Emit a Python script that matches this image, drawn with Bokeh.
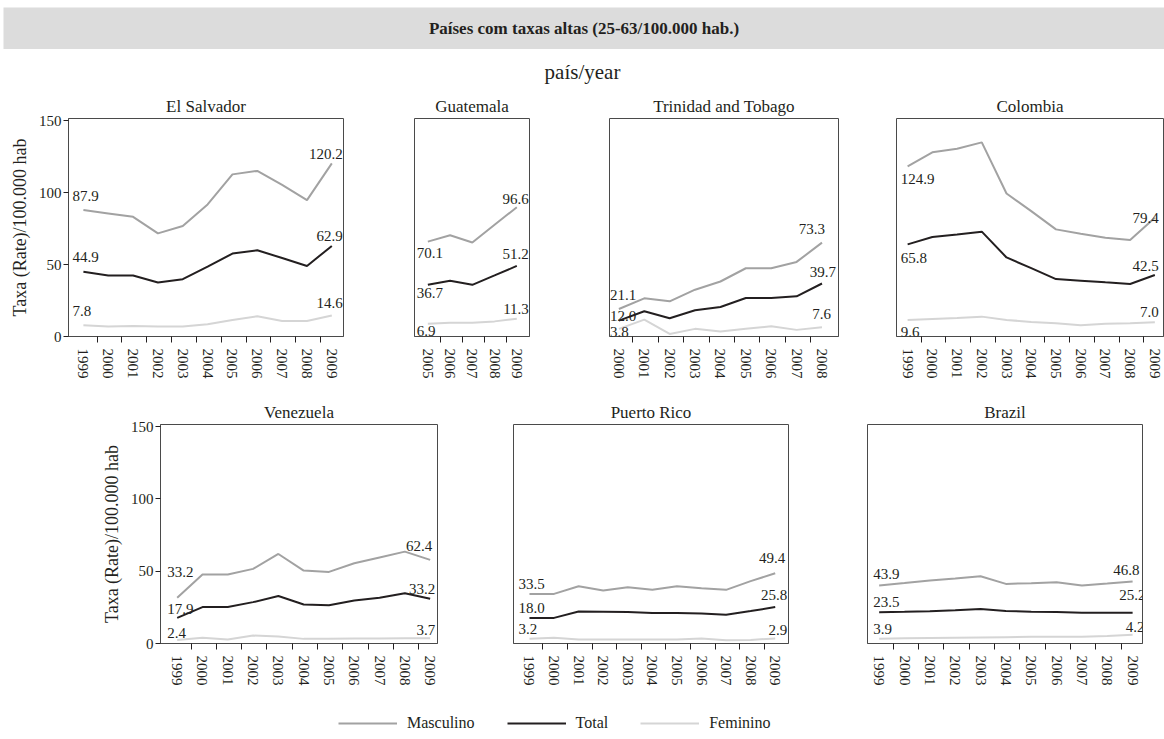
from bokeh.plotting import figure
from bokeh.layouts import column, row, Spacer
from bokeh.models import Range1d, FixedTicker, Legend, LegendItem, ColumnDataSource, LabelSet
from bokeh.core.properties import value
from bokeh.embed import file_html
from bokeh.resources import INLINE

FONT = "Liberation Serif"
INK = "#231f20"
C_MASC = "#a2a2a2"
C_TOT = "#231f20"
C_FEM = "#d5d5d5"

main_title = "Países com taxas altas (25-63/100.000 hab.)"
sub_title = "país/year"
y_label = "Taxa (Rate)/100.000 hab"
series_names = ["Masculino", "Total", "Feminino"]
y_ticks = [0, 50, 100, 150]

# ---- El Salvador
es_years = list(range(1999, 2010))
es_masc = [87.9, 85.5, 83.1, 71.6, 76.7, 91.7, 112.6, 115.0, 105.3, 94.7, 120.2]
es_total = [44.9, 42.4, 42.4, 37.5, 39.8, 48.5, 57.6, 59.9, 54.5, 49.0, 62.9]
es_fem = [7.8, 6.9, 7.3, 7.0, 6.9, 8.5, 11.5, 14.0, 10.8, 10.8, 14.6]
es_first = [87.9, 44.9, 7.8]
es_last = [120.2, 62.9, 14.6]

# ---- Guatemala
gt_years = list(range(2005, 2010))
gt_masc = [65.9, 70.3, 65.3, 77.6, 89.8]
gt_total = [35.9, 38.7, 35.9, 42.4, 49.0]
gt_fem = [8.8, 9.6, 9.6, 10.5, 12.3]
gt_first = [70.1, 36.7, 6.9]
gt_last = [96.6, 51.2, 11.3]

# ---- Trinidad and Tobago
tt_years = list(range(2000, 2009))
tt_masc = [19.1, 26.5, 24.4, 32.5, 38.2, 47.4, 47.4, 51.8, 65.2]
tt_total = [11.0, 17.5, 12.7, 18.2, 20.5, 26.7, 26.7, 27.9, 36.8]
tt_fem = [5.3, 11.7, 1.8, 5.3, 3.5, 5.3, 7.1, 4.6, 6.4]
tt_first = [21.1, 12.0, 3.8]
tt_last = [73.3, 39.7, 7.6]

# ---- Colombia
co_years = list(range(1999, 2010))
co_masc = [118.2, 127.9, 130.4, 134.8, 99.3, 87.1, 74.4, 71.4, 68.6, 67.0, 82.5]
co_total = [64.0, 69.1, 70.9, 72.8, 54.9, 47.5, 39.9, 38.8, 37.6, 36.5, 42.7]
co_fem = [11.5, 12.2, 12.9, 13.8, 11.5, 10.1, 9.2, 7.8, 8.8, 9.2, 9.9]
co_first = [124.9, 65.8, 9.6]
co_last = [79.4, 42.5, 7.0]

# ---- Venezuela
ve_years = list(range(1999, 2010))
ve_masc = [31.6, 47.7, 47.7, 51.6, 61.9, 50.4, 49.5, 55.5, 59.5, 63.5, 57.8]
ve_total = [17.7, 25.2, 25.2, 28.6, 32.8, 27.0, 26.5, 29.7, 31.6, 34.8, 30.9]
ve_fem = [2.5, 3.9, 2.8, 5.5, 4.8, 3.2, 3.2, 3.4, 3.5, 3.7, 3.7]
ve_first = [33.2, 17.9, 2.4]
ve_last = [62.4, 33.2, 3.7]

# ---- Puerto Rico
pr_years = list(range(1999, 2010))
pr_masc = [34.3, 34.3, 39.6, 36.6, 38.9, 37.1, 39.6, 38.2, 37.1, 43.1, 48.6]
pr_total = [17.7, 17.7, 22.1, 22.0, 21.8, 21.0, 21.0, 20.8, 19.9, 22.4, 25.2]
pr_fem = [3.2, 3.9, 2.8, 2.8, 2.8, 2.8, 2.8, 3.5, 2.3, 2.5, 3.5]
pr_first = [33.5, 18.0, 3.2]
pr_last = [49.4, 25.8, 2.9]

# ---- Brazil
br_years = list(range(1999, 2010))
br_masc = [40.1, 41.8, 43.6, 45.0, 46.5, 41.2, 41.7, 42.3, 40.1, 41.4, 42.8]
br_total = [21.6, 21.9, 22.3, 23.0, 23.9, 22.5, 22.0, 21.8, 21.3, 21.2, 21.2]
br_fem = [3.2, 3.6, 3.8, 4.0, 4.2, 4.4, 4.6, 4.7, 4.6, 5.2, 6.0]
br_first = [43.9, 23.5, 3.9]
br_last = [46.8, 25.2, 4.2]

COLORS = [C_MASC, C_TOT, C_FEM]


def add_labels(p, xs, ys, vals, offs, align):
    # offsets: (dx, dy) in px, dy > 0 means downward on screen
    src = ColumnDataSource(dict(
        x=xs, y=ys, text=["%.1f" % v for v in vals],
        dx=[o[0] for o in offs], dy=[-o[1] for o in offs]))
    p.add_layout(LabelSet(x="x", y="y", text="text", x_offset="dx", y_offset="dy",
                          source=src, text_align=align, text_baseline="alphabetic",
                          text_font=value(FONT), text_font_size="15px",
                          text_color=INK))


def make_panel(title, years, series, first, last, xr, frame_w, bl, br, bt, bb,
               show_y, s_off, e_off, frame_h=219):
    p = figure(width=bl + frame_w + br, height=bt + frame_h + bb,
               x_range=Range1d(*xr), y_range=Range1d(0, 151.4),
               toolbar_location=None, output_backend="svg",
               min_border_left=bl, min_border_right=br,
               min_border_top=bt, min_border_bottom=bb, title=title)
    p.title.align = "center"
    p.title.text_font = FONT
    p.title.text_font_style = "normal"
    p.title.text_font_size = "17px"
    p.title.text_color = INK
    p.title.standoff = 5
    p.grid.visible = False
    p.outline_line_color = "#4a4a4a"
    p.outline_line_width = 1

    xa = p.xaxis[0]
    xa.ticker = FixedTicker(ticks=years, minor_ticks=[y + 0.55 for y in years[:-1]])
    xa.major_tick_out = 0
    xa.major_tick_in = 0
    xa.minor_tick_out = 6
    xa.minor_tick_in = 0
    xa.minor_tick_line_color = INK
    xa.axis_line_color = "#4a4a4a"
    xa.major_label_orientation = "vertical"
    xa.major_label_standoff = 6
    xa.major_label_text_font = FONT
    xa.major_label_text_font_size = "15px"
    xa.major_label_text_color = INK

    ya = p.yaxis[0]
    if show_y:
        ya.ticker = FixedTicker(ticks=y_ticks)
        ya.major_tick_out = 5
        ya.major_tick_in = 0
        ya.minor_tick_out = 0
        ya.minor_tick_in = 0
        ya.major_tick_line_color = INK
        ya.axis_line_color = "#4a4a4a"
        ya.major_label_text_font = FONT
        ya.major_label_text_font_size = "15px"
        ya.major_label_text_color = INK
        ya.major_label_standoff = 2
        ya.axis_label = y_label
        ya.axis_label_text_font = FONT
        ya.axis_label_text_font_style = "normal"
        ya.axis_label_text_font_size = "18px"
        ya.axis_label_text_color = INK
        ya.axis_label_standoff = 6
    else:
        ya.visible = False

    masc, tot, fem = series
    p.line(years, fem, line_color=C_FEM, line_width=2)
    p.line(years, masc, line_color=C_MASC, line_width=2)
    p.line(years, tot, line_color=C_TOT, line_width=2)

    add_labels(p, [years[0]] * 3, [s[0] for s in series], first, s_off, "left")
    add_labels(p, [years[-1]] * 3, [s[-1] for s in series], last, e_off, "right")
    return p


# ---- header
band = figure(width=1161, height=42, x_range=Range1d(0, 1), y_range=Range1d(0, 1),
              toolbar_location=None, output_backend="svg", min_border=0,
              x_axis_location=None, y_axis_location=None,
              background_fill_color="#dcdcdc", border_fill_color="#dcdcdc",
              outline_line_color=None)
band.grid.visible = False
band.text(x=[0.5], y=[0.5], text=[main_title], text_align="center",
          text_baseline="middle", text_font=value(FONT), text_font_style="bold",
          text_font_size="17px", text_color=INK)

sub = figure(width=1164, height=43, x_range=Range1d(0, 1), y_range=Range1d(0, 1),
             toolbar_location=None, output_backend="svg", min_border=0,
             x_axis_location=None, y_axis_location=None, outline_line_color=None)
sub.grid.visible = False
sub.text(x=[0.5], y=[0.47], text=[sub_title], text_align="center",
         text_baseline="middle", text_font=value(FONT),
         text_font_size="21px", text_color=INK)

# ---- row 1
p_es = make_panel("El Salvador", es_years, [es_masc, es_total, es_fem], es_first, es_last,
                  (1998.40, 2009.47), 275, 68, 35, 25, 60, True,
                  [(-11, -9), (-11, -10), (-11, -9)], [(11, -4), (11, -5), (11, -7)])
p_gt = make_panel("Guatemala", gt_years, [gt_masc, gt_total, gt_fem], gt_first, gt_last,
                  (2004.40, 2009.57), 115, 36, 40, 25, 60, False,
                  [(-11, 16), (-11, 13), (-11, 12)], [(12, -3), (12, -7), (12, -5)])
p_tt = make_panel("Trinidad and Tobago", tt_years, [tt_masc, tt_total, tt_fem], tt_first, tt_last,
                  (1999.63, 2008.65), 229, 40, 28, 25, 60, False,
                  [(-9, -9), (-9, 0), (-9, 8)], [(3, -9), (14, -7), (9, -8)])
p_co = make_panel("Colombia", co_years, [co_masc, co_total, co_fem], co_first, co_last,
                  (1998.55, 2009.35), 267, 30, 1, 25, 60, False,
                  [(-7, 18), (-7, 19), (-7, 17)], [(4, 5), (4, -4), (4, -5)])

# ---- row 2
p_ve = make_panel("Venezuela", ve_years, [ve_masc, ve_total, ve_fem], ve_first, ve_last,
                  (1998.34, 2009.29), 277, 160, 38, 28, 52, True,
                  [(-10, -21), (-10, -4), (-10, -2)], [(2, -9), (5, -5), (5, -3)])
p_pr = make_panel("Puerto Rico", pr_years, [pr_masc, pr_total, pr_fem], pr_first, pr_last,
                  (1998.35, 2009.54), 275, 38, 40, 28, 52, False,
                  [(-11, -5), (-11, -5), (-11, -5)], [(10, -10), (12, -7), (12, -3)])
p_br = make_panel("Brazil", br_years, [br_masc, br_total, br_fem], br_first, br_last,
                  (1998.54, 2009.39), 275, 39, 22, 28, 52, False,
                  [(-6, -6), (-6, -5), (-6, -5)], [(7, -7), (13, -13), (12, -3)])

# ---- legend
lg = figure(width=1164, height=43, x_range=Range1d(0, 1), y_range=Range1d(0, 1),
            toolbar_location=None, output_backend="svg", min_border=0,
            x_axis_location=None, y_axis_location=None, outline_line_color=None)
lg.grid.visible = False
items = []
for name, col in zip(series_names, COLORS):
    r = lg.line(x=[0, 1], y=[-5, -5], line_color=col, line_width=2)
    items.append(LegendItem(label=name, renderers=[r]))
leg = Legend(items=items, orientation="horizontal", location=(338, 5),
             padding=0, margin=0, border_line_color=None, background_fill_alpha=0,
             glyph_width=59, glyph_height=20, label_standoff=10, spacing=32,
             label_text_font=FONT, label_text_font_size="16px", label_text_color=INK)
lg.add_layout(leg)

layout = column(Spacer(height=7), row(Spacer(width=3), band), sub,
                row(p_es, p_gt, p_tt, p_co), row(p_ve, p_pr, p_br), lg)

open("out.html", "w").write(file_html(layout, INLINE))
